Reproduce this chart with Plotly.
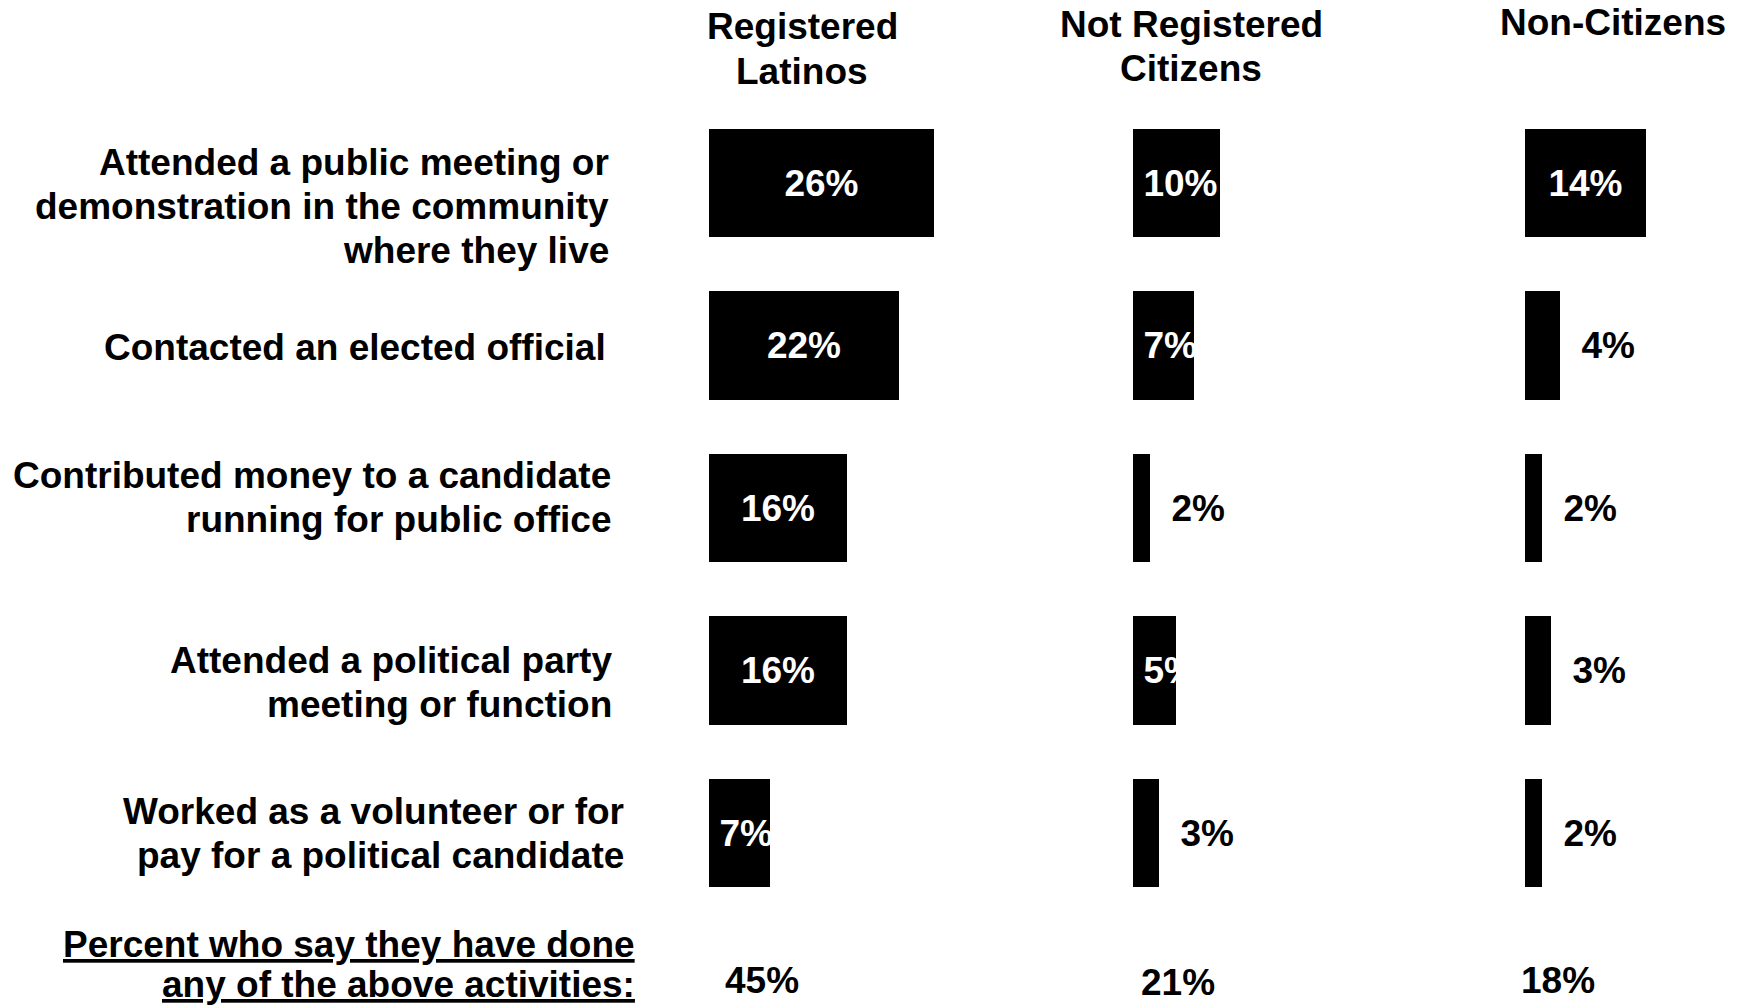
import plotly.graph_objects as go

# ---------------- data ----------------
groups = ["Registered Latinos", "Not Registered Citizens", "Non-Citizens"]
group_header_lines = [["Registered", "Latinos"], ["Not Registered", "Citizens"], ["Non-Citizens"]]
activities = [
    "Attended a public meeting or<br>demonstration in the community<br>where they live",
    "Contacted an elected official",
    "Contributed money to a candidate<br>running for public office",
    "Attended a political party<br>meeting or function",
    "Worked as a volunteer or for<br>pay for a political candidate",
]
registered = [26, 22, 16, 16, 7]
not_registered = [10, 7, 2, 5, 3]
non_citizens = [14, 4, 2, 3, 2]
any_activity = [45, 21, 18]
summary_lines = ["Percent who say they have done", "any of the above activities:"]

# ---------------- layout constants ----------------
W, H = 1742, 1007
FONT = "Liberation Sans, Arial, sans-serif"
FS = 37
LINE = 44
PX_PER_PCT = 8.65
col_start = [709, 1133, 1525]
col_range = [30, 25, 24]
row0_center, row_step = 183, 162.5
y_top = -row0_center / row_step
y_bot = (H - row0_center) / row_step

inside_font = dict(color="white", size=FS, family=FONT, weight="bold")
outside_font = dict(color="black", size=FS, family=FONT, weight="bold")

fig = go.Figure()
series = [registered, not_registered, non_citizens]
# label modes: centred inside (label fits), start-anchored inside (label wider than bar), outside
modes = [
    ("middle", lambda v: v >= 12, "inside", ""),
    ("start", lambda v: 5 <= v < 12, "inside", "\u2009"),
    ("middle", lambda v: v < 5, "outside", "\u2002"),
]
for j, vals in enumerate(series):
    axis = "x" if j == 0 else f"x{j + 1}"
    for anchor, cond, pos, prefix in modes:
        xs = [v if cond(v) else None for v in vals]
        if all(x is None for x in xs):
            continue
        txt = [f"{prefix}{v}%" if cond(v) else "" for v in vals]
        fig.add_trace(go.Bar(
            x=xs, y=activities, orientation="h", xaxis=axis, yaxis="y",
            width=0.67, name=groups[j],
            marker=dict(color="black", line=dict(width=0)),
            text=txt, textposition=pos, insidetextanchor=anchor, textangle=0,
            constraintext="none", cliponaxis=False,
            insidetextfont=inside_font, outsidetextfont=outside_font,
            hoverinfo="skip", showlegend=False,
        ))

layout_axes = {}
for j in range(3):
    key = "xaxis" if j == 0 else f"xaxis{j + 1}"
    d0 = col_start[j] / W
    d1 = (col_start[j] + PX_PER_PCT * col_range[j]) / W
    layout_axes[key] = dict(domain=[d0, min(d1, 1.0)], range=[0, col_range[j]],
                            visible=False, anchor="y", fixedrange=True)

annotations = []
font = dict(family=FONT, size=FS, color="black", weight="bold")

# category labels
label_right = [611, 608, 613, 614, 626]
label_dy = [23, 2, -11, 12, 0]
for i, lab in enumerate(activities):
    lines = lab.split("<br>")
    n = len(lines)
    for k, ln in enumerate(lines):
        off = label_dy[i] + (k - (n - 1) / 2) * LINE
        annotations.append(dict(text=ln, xref="paper", x=label_right[i] / W, xanchor="right",
                                yref="y", y=i, yanchor="middle", yshift=-off,
                                showarrow=False, font=font))

# column headers
header_cx = [802, 1191, 1613]
header_y0 = [27, 24, 22]
for j, lines in enumerate(group_header_lines):
    for k, ln in enumerate(lines):
        annotations.append(dict(text=ln, xref="paper", x=header_cx[j] / W, xanchor="center",
                                yref="paper", y=1 - (header_y0[j] + k * LINE) / H, yanchor="middle",
                                showarrow=False, font=font))

# summary row
sum_y = [944, 984]
for k, ln in enumerate(summary_lines):
    annotations.append(dict(text=f"<u>{ln}</u>", xref="paper", x=637 / W, xanchor="right",
                            yref="paper", y=1 - sum_y[k] / H, yanchor="middle",
                            showarrow=False, font=font))
val_cx = [762, 1178, 1558]
val_y = [980, 982, 980]
for j, v in enumerate(any_activity):
    annotations.append(dict(text=f"{v}%", xref="paper", x=val_cx[j] / W, xanchor="center",
                            yref="paper", y=1 - val_y[j] / H, yanchor="middle",
                            showarrow=False, font=font))

fig.update_layout(
    width=W, height=H, margin=dict(l=0, r=0, t=0, b=0, pad=0),
    paper_bgcolor="white", plot_bgcolor="white",
    yaxis=dict(domain=[0, 1], range=[y_bot, y_top], visible=False, type="category",
               anchor="x", fixedrange=True),
    annotations=annotations, bargap=0, barmode="overlay", showlegend=False,
    **layout_axes,
)

fig.write_html("out.html", post_script="document.body.style.margin='0';",
               config={"displayModeBar": False})
